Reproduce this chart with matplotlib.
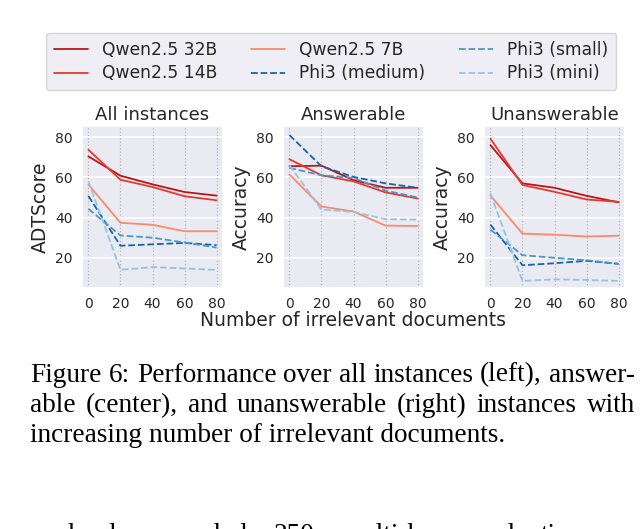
import matplotlib
matplotlib.use("Agg")
import matplotlib.pyplot as plt
import seaborn as sns

# Datos
n_docs = [0, 20, 40, 60, 80]
models = ["Qwen2.5 32B", "Qwen2.5 14B", "Qwen2.5 7B",
          "Phi3 (medium)", "Phi3 (small)", "Phi3 (mini)"]
panel_titles = ["All instances", "Answerable", "Unanswerable"]
panel_ylabels = ["ADTScore", "Accuracy", "Accuracy"]

# All instances (ADTScore)
all_q32 = [70.4, 60.8, 56.5, 52.7, 50.9]
all_q14 = [73.7, 58.8, 55.2, 50.6, 48.6]
all_q7 = [56.4, 37.4, 36.4, 33.2, 33.2]
all_phim = [50.7, 26.0, 26.7, 27.4, 26.3]
all_phis = [44.3, 31.1, 30.0, 27.6, 25.1]
all_phimini = [58.0, 14.0, 15.4, 14.7, 14.0]

# Answerable (Accuracy)
ans_q32 = [65.5, 65.8, 58.6, 54.8, 54.8]
ans_q14 = [69.0, 61.0, 58.0, 52.5, 49.5]
ans_q7 = [61.4, 45.5, 43.0, 36.0, 35.8]
ans_phim = [81.0, 65.5, 60.2, 57.0, 54.8]
ans_phis = [64.7, 61.0, 59.7, 53.4, 50.0]
ans_phimini = [66.0, 44.0, 42.8, 39.2, 39.0]

# Unanswerable (Accuracy)
una_q32 = [76.0, 57.0, 54.8, 50.8, 47.6]
una_q14 = [79.2, 56.2, 52.8, 49.0, 47.8]
una_q7 = [51.0, 32.0, 31.5, 30.6, 31.0]
una_phim = [36.5, 16.3, 17.3, 18.5, 17.0]
una_phis = [34.0, 21.3, 20.0, 18.8, 17.0]
una_phimini = [52.0, 8.5, 9.3, 9.0, 8.5]

panels = [
    [all_q32, all_q14, all_q7, all_phim, all_phis, all_phimini],
    [ans_q32, ans_q14, ans_q7, ans_phim, ans_phis, ans_phimini],
    [una_q32, una_q14, una_q7, una_phim, una_phis, una_phimini],
]

colors = ["#bc141a", "#e8392b", "#fc8a6a", "#1764ab", "#4a98c9", "#94c4df"]
styles = ["-", "-", "-", "--", "--", "--"]

sns.set_theme(style="darkgrid")

W, H = 644, 529
fig = plt.figure(figsize=(W / 100, H / 100), dpi=100)

lefts = [82, 283, 484]
ax_w, ax_top, ax_bot = 141, 126, 288

handles = []
for k in range(3):
    ax = fig.add_axes([lefts[k] / W, 1 - ax_bot / H, ax_w / W, (ax_bot - ax_top) / H])
    for vals, c, ls, name in zip(panels[k], colors, styles, models):
        ln, = ax.plot(n_docs, vals, color=c, linestyle=ls, lw=1.3, label=name)
        if k == 0:
            handles.append(ln)
    ax.set_xlim(-4, 84)
    ax.set_ylim(5, 85.5)
    ax.set_xticks(n_docs)
    ax.set_yticks([20, 40, 60, 80])
    ax.tick_params(labelsize=10, pad=6.5, length=0)
    ax.xaxis.grid(True, linestyle=":", color="#b5b5b5", lw=0.9)
    ax.yaxis.grid(True, color="white", lw=1.1)
    ax.set_title(panel_titles[k], fontsize=13, pad=4)
    ax.set_ylabel(panel_ylabels[k], fontsize=13.5, labelpad=4)

fig.text(353.5 / W, 1 - 320 / H, "Number of irrelevant documents",
         ha="center", va="center", fontsize=13.5)

fig.legend(handles=handles, loc="center", ncol=3, fontsize=12.3,
           bbox_to_anchor=(331 / W, 1 - 61.5 / H), handlelength=2.0,
           columnspacing=2.0, borderpad=0.45, labelspacing=0.35)

# Pie de figura (texto justificado)
cap_font = dict(family="Liberation Serif", fontsize=19.6, color="black")
renderer = fig.canvas.get_renderer()


def line_text(text, y_px, x0=30, x1=635, justify=True):
    if not justify:
        fig.text(x0 / W, 1 - y_px / H, text, ha="left", va="baseline", **cap_font)
        return
    words = text.split(" ")
    widths = []
    for w in words:
        t = fig.text(0, 0, w, **cap_font)
        widths.append(t.get_window_extent(renderer).width)
        t.remove()
    gap = (x1 - x0 - sum(widths)) / (len(words) - 1)
    x = x0
    for w, wd in zip(words, widths):
        fig.text(x / W, 1 - y_px / H, w, ha="left", va="baseline", **cap_font)
        x += wd + gap


line_text("Figure 6: Performance over all instances (left), answer-", 381.5)
line_text("able (center), and unanswerable (right) instances with", 412)
line_text("increasing number of irrelevant documents.", 442.5, justify=False)
line_text("randomly sampled 250 multi-hop and time-span", 542, x0=26, x1=648)

fig.savefig("out.png", dpi=100)
